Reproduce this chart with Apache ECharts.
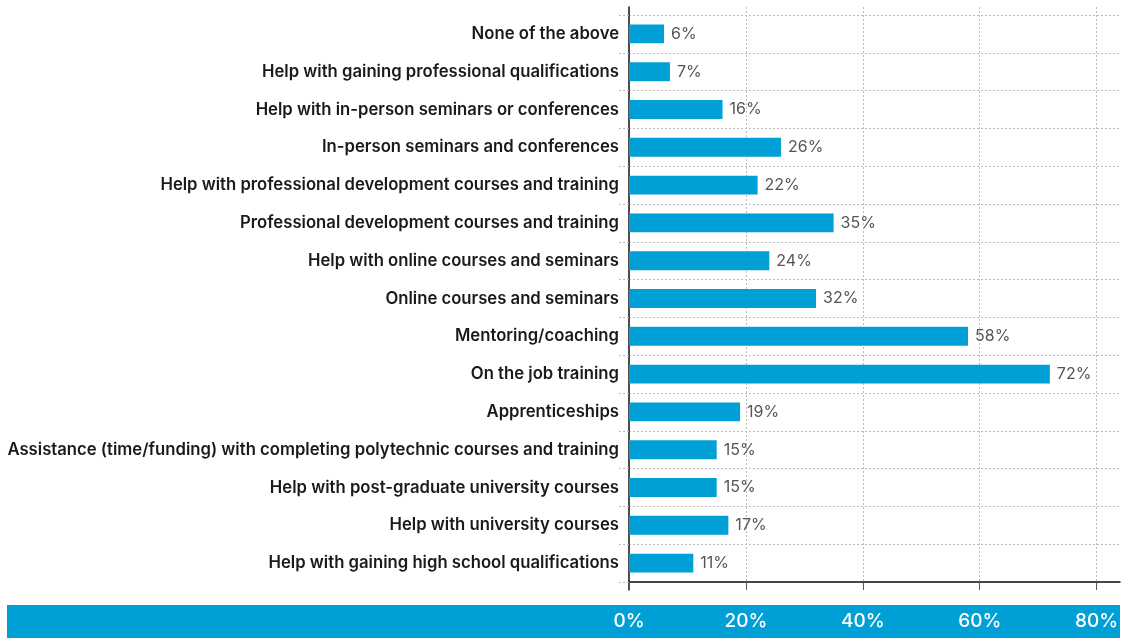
<!DOCTYPE html>
<html>
<head>
<meta charset="utf-8">
<script src="https://cdn.jsdelivr.net/npm/echarts@6/dist/echarts.min.js"></script>
<style>
  html, body { margin: 0; padding: 0; background: #fff; }
  #chart { width: 1124px; height: 638px; }
</style>
</head>
<body>
<div id="chart"></div>
<script>
// top to bottom, as in the picture
const categories = [
  "None of the above",
  "Help with gaining professional qualifications",
  "Help with in-person seminars or conferences",
  "In-person seminars and conferences",
  "Help with professional development courses and training",
  "Professional development courses and training",
  "Help with online courses and seminars",
  "Online courses and seminars",
  "Mentoring/coaching",
  "On the job training",
  "Apprenticeships",
  "Assistance (time/funding) with completing polytechnic courses and training",
  "Help with post-graduate university courses",
  "Help with university courses",
  "Help with gaining high school qualifications"
];
const values = [6, 7, 16, 26, 22, 35, 24, 32, 58, 72, 19, 15, 15, 17, 11];
const tickValues = [0, 20, 40, 60, 80];

const dotted = { color: "#bbb", type: [2, 2], width: 1 };

const chart = echarts.init(document.getElementById("chart"));

chart.setOption({
  animation: false,
  textStyle: { fontFamily: "Inter" },
  graphic: [
    {
      type: "rect",
      left: 7,
      top: 605,
      z: -10,
      shape: { width: 1113, height: 33 },
      style: { fill: "#009fd6" }
    }
  ],
  grid: [
    // bars
    { left: 629, right: 4, top: 15, bottom: 56 },
    // taller frame: vertical grid lines and y axis line start a bit higher
    { left: 629, right: 4, top: 7, bottom: 48 }
  ],
  xAxis: [
    {
      type: "value",
      gridIndex: 0,
      min: 0,
      max: 84,
      interval: 20,
      axisLine: { show: true, lineStyle: { color: "#111", width: 1.5 } },
      axisTick: {
        show: true,
        length: 8,
        customValues: tickValues,
        lineStyle: { color: "#555" }
      },
      axisLabel: {
        customValues: tickValues,
        formatter: "{value}%",
        color: "#fff",
        fontSize: 19,
        fontWeight: 500,
        margin: 30
      },
      splitLine: { show: false }
    },
    {
      type: "value",
      gridIndex: 1,
      min: 0,
      max: 84,
      interval: 20,
      axisLine: { show: false },
      axisTick: { show: false },
      axisLabel: { show: false },
      splitLine: { show: true, showMinLine: false, showMaxLine: false, lineStyle: dotted }
    }
  ],
  yAxis: [
    {
      type: "category",
      gridIndex: 0,
      inverse: true,
      data: categories,
      axisLine: { show: false },
      axisTick: { show: true, length: 10, lineStyle: dotted },
      axisLabel: {
        color: "#1a1a1a",
        fontSize: 16.7,
        fontWeight: 600,
        margin: 10
      },
      splitLine: { show: true, lineStyle: dotted }
    },
    {
      type: "value",
      gridIndex: 1,
      axisLine: { show: true, lineStyle: { color: "#111", width: 1.5 } },
      axisTick: { show: false },
      axisLabel: { show: false },
      splitLine: { show: false }
    }
  ],
  series: [
    {
      type: "bar",
      xAxisIndex: 0,
      yAxisIndex: 0,
      data: values,
      barWidth: "50%",
      z: 3,
      itemStyle: { color: "#009fd6" },
      label: {
        show: true,
        position: "right",
        distance: 7,
        formatter: "{c}%",
        color: "#555",
        fontSize: 16
      }
    }
  ]
});
</script>
</body>
</html>
